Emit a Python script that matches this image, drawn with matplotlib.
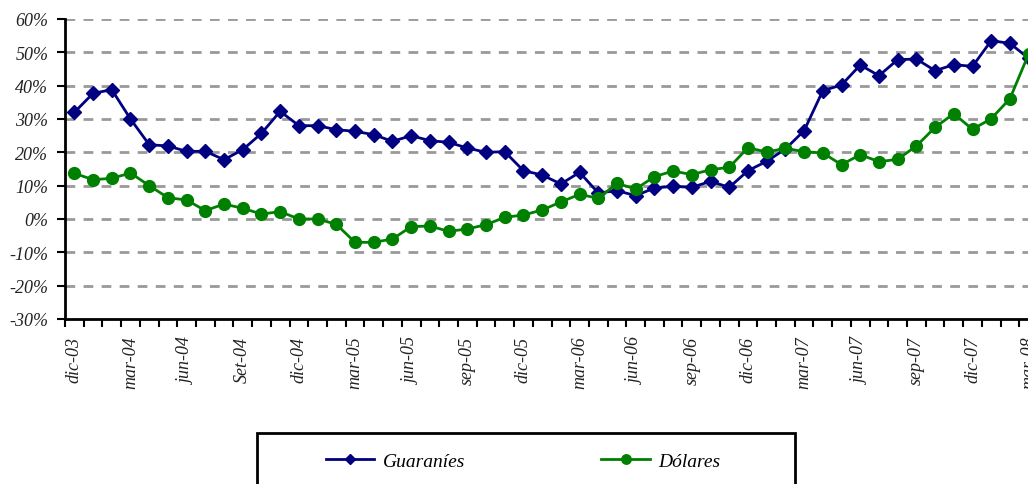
import matplotlib
matplotlib.use("Agg")
import matplotlib.pyplot as plt
from matplotlib.patches import Rectangle
from matplotlib.ticker import FixedLocator, FuncFormatter

months = ["dic-03", "ene-04", "feb-04", "mar-04", "abr-04", "may-04", "jun-04", "jul-04", "ago-04", "Set-04",
          "oct-04", "nov-04", "dic-04", "ene-05", "feb-05", "mar-05", "abr-05", "may-05", "jun-05", "jul-05",
          "ago-05", "sep-05", "oct-05", "nov-05", "dic-05", "ene-06", "feb-06", "mar-06", "abr-06", "may-06",
          "jun-06", "jul-06", "ago-06", "sep-06", "oct-06", "nov-06", "dic-06", "ene-07", "feb-07", "mar-07",
          "abr-07", "may-07", "jun-07", "jul-07", "ago-07", "sep-07", "oct-07", "nov-07", "dic-07", "ene-08",
          "feb-08", "mar-08"]

guaranies = [32.0, 37.7, 38.8, 30.0, 22.3, 21.9, 20.3, 20.3, 17.8, 20.8,
             25.7, 32.3, 28.0, 28.0, 26.8, 26.3, 25.3, 23.3, 25.0, 23.5,
             23.0, 21.3, 20.0, 20.2, 14.5, 13.2, 10.5, 14.0, 7.8, 8.5,
             7.0, 9.3, 9.8, 9.5, 11.3, 9.5, 14.5, 17.3, 21.0, 26.5,
             38.5, 40.2, 46.2, 43.0, 47.8, 48.0, 44.5, 46.3, 45.8, 53.5,
             52.7, 48.2]

dolares = [13.7, 11.8, 12.2, 13.8, 10.0, 6.4, 5.7, 2.5, 4.5, 3.2,
           1.5, 2.2, 0.0, 0.0, -1.6, -7.0, -7.0, -6.0, -2.3, -2.1,
           -3.7, -3.0, -1.7, 0.5, 1.2, 2.7, 5.1, 7.4, 6.2, 10.7,
           9.0, 12.7, 14.4, 13.3, 14.8, 15.5, 21.4, 20.1, 21.2, 20.2,
           19.8, 16.3, 19.3, 17.2, 17.9, 21.9, 27.5, 31.6, 26.9, 30.1,
           36.1, 49.5]

y_ticks = [-30, -20, -10, 0, 10, 20, 30, 40, 50, 60]

W, H = 1028, 485
fig = plt.figure(figsize=(W / 100, H / 100), dpi=100)
ax = fig.add_axes([65 / W, 1 - 320 / H, (1038 - 65) / W, 300 / H])

fam = ["Liberation Serif", "DejaVu Serif"]
x = list(range(len(months)))
ax.plot(x, guaranies, color="#000080", lw=2, marker="D", ms=7, label="Guaraníes", zorder=3, clip_on=False)
ax.plot(x, dolares, color="#008000", lw=2, marker="o", ms=8.5, label="Dólares", zorder=3, clip_on=False)

ax.set_xlim(-0.5, len(months) - 0.5)
ax.set_ylim(-30, 60)

for s in ["top", "right"]:
    ax.spines[s].set_visible(False)
for s in ["left", "bottom"]:
    ax.spines[s].set_linewidth(2)
    ax.spines[s].set_color("black")

ax.set_yticks(y_ticks)
ax.yaxis.set_major_formatter(FuncFormatter(lambda v, p: f"{int(v)}%"))
for v in y_ticks[1:]:
    ax.axhline(v, color="#999999", lw=2, ls=(0, (3.5, 3)), zorder=1)

label_idx = list(range(0, len(months), 3))
ax.xaxis.set_major_locator(FixedLocator(label_idx))
ax.set_xticklabels([months[i] for i in label_idx], rotation=90, ha="center", va="top")
ax.xaxis.set_minor_locator(FixedLocator([i - 0.5 for i in range(len(months) + 1)]))
ax.tick_params(axis="x", which="major", length=0, pad=12)
ax.tick_params(axis="x", which="minor", length=6, width=1.5, direction="out")
ax.tick_params(axis="y", which="major", length=6, width=1.5, direction="out", pad=6)

for lab in ax.get_xticklabels() + ax.get_yticklabels():
    lab.set_fontfamily(fam)
    lab.set_fontstyle("italic")
    lab.set_fontsize(13)
    lab.set_color("#222222")

# legend box
fig.patches.append(Rectangle((257 / W, -0.1), (795 - 257) / W, 0.1 + 1 - 434 / H,
                             transform=fig.transFigure, fill=False, edgecolor="black", lw=2))
leg = fig.legend(loc="center left", bbox_to_anchor=(308 / W, 1 - 462 / H), ncol=2, frameon=False,
                 prop={"family": fam, "style": "italic", "size": 14},
                 handlelength=2.5, handletextpad=0.45, columnspacing=7.0, markerscale=0.8)

fig.savefig("out.png", dpi=100)
